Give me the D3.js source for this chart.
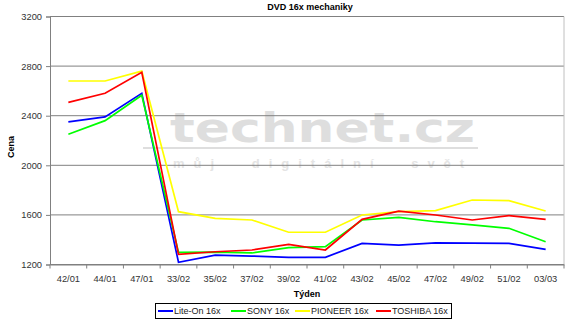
<!DOCTYPE html>
<html>
<head>
<meta charset="utf-8">
<script src="https://cdn.jsdelivr.net/npm/d3@7"></script>
<style>
  body { margin: 0; background: #fff; }
  text { font-family: "Liberation Sans", Arial, sans-serif; }
</style>
</head>
<body>
<svg width="570" height="323"></svg>
<script>
const weeks = ["42/01","44/01","47/01","33/02","35/02","37/02","39/02","41/02","43/02","45/02","47/02","49/02","51/02","03/03"];
const liteOn  = [2350,2390,2580,1218,1275,1268,1258,1258,1370,1357,1375,1373,1370,1322];
const sony    = [2250,2360,2565,1298,1300,1293,1336,1344,1559,1580,1545,1519,1492,1384];
const pioneer = [2680,2680,2760,1626,1572,1559,1460,1460,1599,1626,1634,1720,1715,1631];
const toshiba = [2508,2581,2750,1282,1303,1317,1363,1317,1564,1631,1599,1559,1594,1564];
const yTicks = [1200,1600,2000,2400,2800,3200];

const series = [
  {name:"Lite-On 16x", values:liteOn, color:"#0000ff"},
  {name:"SONY 16x", values:sony, color:"#00ff00"},
  {name:"PIONEER 16x", values:pioneer, color:"#ffff00"},
  {name:"TOSHIBA 16x", values:toshiba, color:"#ff0000"}
];

const svg = d3.select("svg");
const plotL = 50, plotR = 564, plotT = 16.5, plotB = 264.5;

const x = d3.scaleBand().domain(weeks).range([plotL, plotR]);
const y = d3.scaleLinear().domain([1200, 3200]).range([plotB, plotT]);

// watermark
const wm = svg.append("g").attr("fill", "#dedede");
wm.append("text").attr("x", 170).attr("y", 141.5).attr("font-size", 41).attr("font-weight", "bold")
  .style("font-family", "'DejaVu Sans', sans-serif")
  .attr("textLength", 305).attr("lengthAdjust", "spacingAndGlyphs").text("technet.cz");
wm.append("rect").attr("x", 143).attr("y", 147).attr("width", 335).attr("height", 2);
wm.append("text").attr("x", 173).attr("y", 168).attr("font-size", 13).attr("font-weight", "bold")
  .attr("fill", "#e4e4e4")
  .style("letter-spacing", "9px").style("word-spacing", "16px")
  .text("můj digitální svět");

// grid
svg.append("g").selectAll("line").data(yTicks).enter().append("line")
  .attr("x1", plotL).attr("x2", plotR)
  .attr("y1", d => y(d)).attr("y2", d => y(d))
  .attr("stroke", "#808080").attr("stroke-width", 1);

// right border
svg.append("line").attr("x1", plotR).attr("x2", plotR).attr("y1", plotT).attr("y2", plotB)
  .attr("stroke", "#c0c0c0");

// y axis
const yAxis = svg.append("g").attr("transform", `translate(${plotL},0)`)
  .call(d3.axisLeft(y).tickValues(yTicks).tickSize(4).tickPadding(4).tickFormat(d3.format("d")));
yAxis.select(".domain").attr("stroke", "#808080");
yAxis.selectAll(".tick line").attr("stroke", "#808080");
yAxis.selectAll("text").attr("font-size", 9.3).attr("fill", "#333").style("font-family", "'Liberation Sans', Arial, sans-serif");

// x axis
const xAxis = svg.append("g").attr("transform", `translate(0,${plotB})`)
  .call(d3.axisBottom(x).tickSize(0).tickPadding(10.5));
xAxis.select(".domain").attr("stroke", "#808080");
xAxis.selectAll("text").attr("font-size", 9.3).attr("fill", "#333").style("font-family", "'Liberation Sans', Arial, sans-serif");
svg.append("g").selectAll("line").data(weeks.concat(["end"])).enter().append("line")
  .attr("x1", (d, i) => plotL + i * x.step()).attr("x2", (d, i) => plotL + i * x.step())
  .attr("y1", plotB).attr("y2", plotB + 4)
  .attr("stroke", "#808080");

// lines
const line = d3.line()
  .x((d, i) => x(weeks[i]) + x.bandwidth() / 2)
  .y(d => y(d));
svg.append("g").selectAll("path").data(series).enter().append("path")
  .attr("d", d => line(d.values))
  .attr("fill", "none").attr("stroke", d => d.color).attr("stroke-width", 1.7);

// titles
svg.append("text").attr("x", 310).attr("y", 10).attr("text-anchor", "middle")
  .attr("font-size", 9).attr("font-weight", "bold").text("DVD 16x mechaniky");
svg.append("text").attr("x", 307).attr("y", 296.5).attr("text-anchor", "middle")
  .attr("font-size", 9).attr("font-weight", "bold").text("Týden");
svg.append("text").attr("transform", "translate(14,147) rotate(-90)").attr("text-anchor", "middle")
  .attr("font-size", 9).attr("font-weight", "bold").text("Cena");

// legend
const legend = svg.append("g");
legend.append("rect").attr("x", 155.5).attr("y", 303.5).attr("width", 296).attr("height", 15)
  .attr("fill", "#fff").attr("stroke", "#000");
const lx = [158, 231, 295, 376];
const items = legend.selectAll(".item").data(series).enter().append("g")
  .attr("transform", (d, i) => `translate(${lx[i]},311)`);
items.append("line").attr("x1", 0).attr("x2", 15).attr("stroke", d => d.color).attr("stroke-width", 2);
items.append("text").attr("x", 16).attr("dy", "0.35em").attr("font-size", 9).attr("fill", "#222").text(d => d.name);
</script>
</body>
</html>
